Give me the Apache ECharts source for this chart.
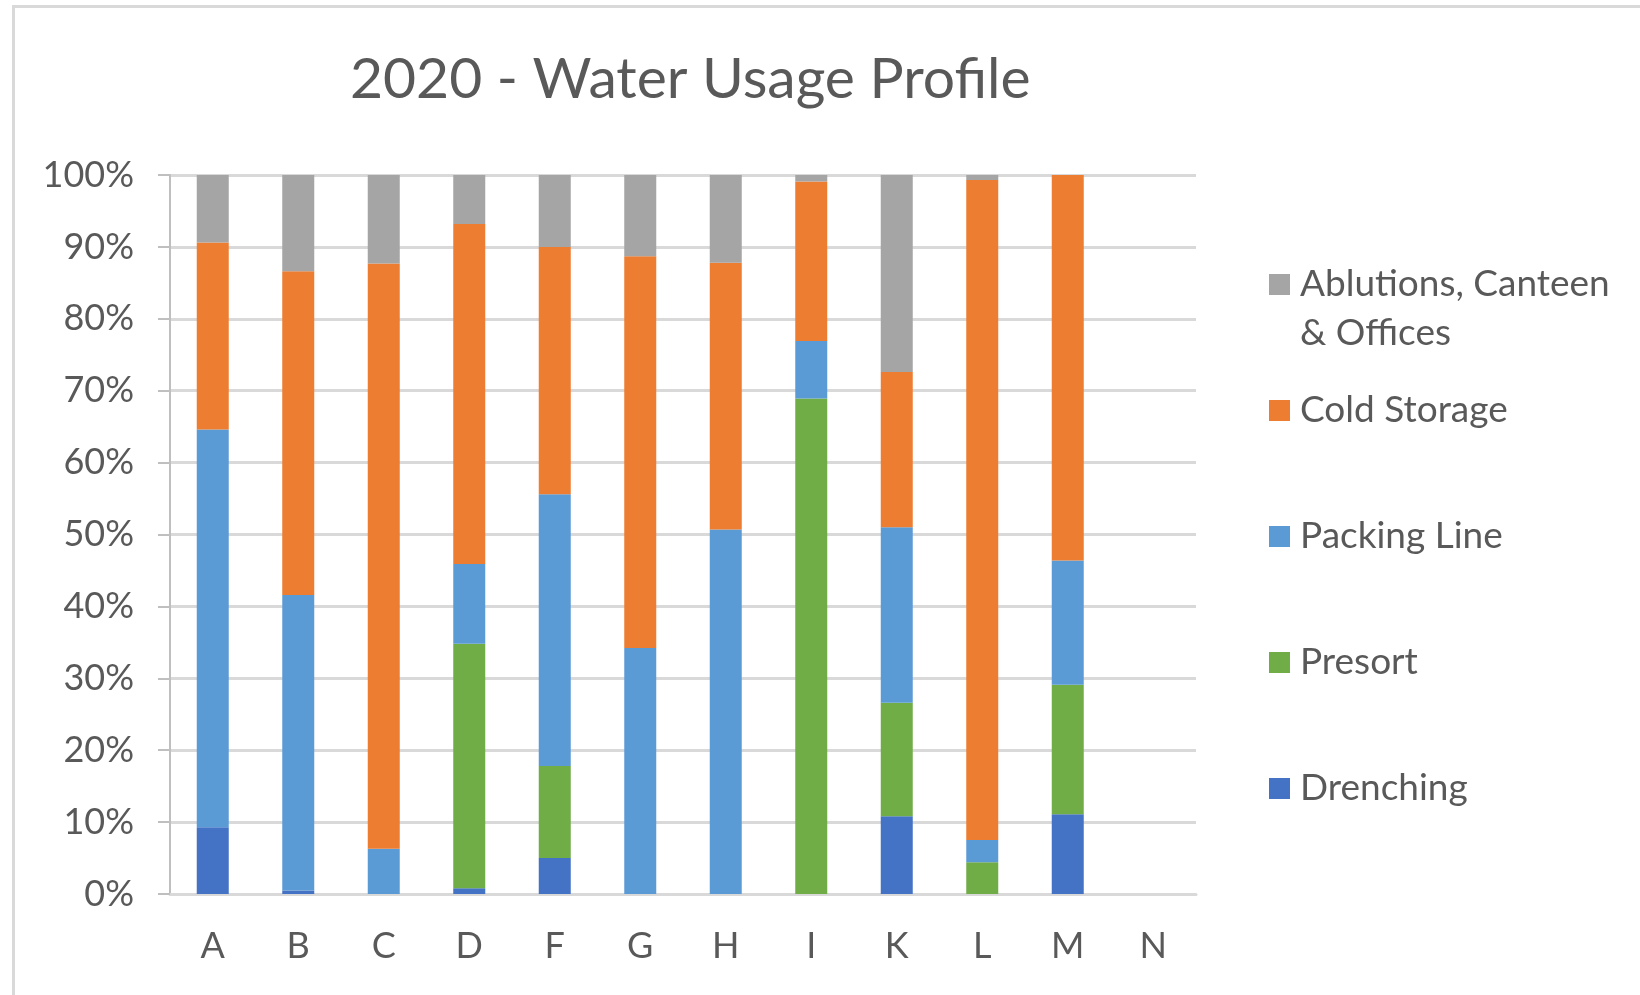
<!DOCTYPE html>
<html>
<head>
<meta charset="utf-8">
<title>2020 - Water Usage Profile</title>
<script src="https://cdn.jsdelivr.net/npm/echarts@6/dist/echarts.min.js"></script>
<style>
  html, body { margin: 0; padding: 0; background: #fff; }
  #chart { width: 1640px; height: 995px; }
</style>
</head>
<body>
<div id="chart"></div>
<script>
const categories = ['A', 'B', 'C', 'D', 'F', 'G', 'H', 'I', 'K', 'L', 'M', 'N'];

// share of water use per site, in percent (N has no data)
const drenching = [9.3, 0.5, 0, 0.8, 5.0, 0, 0, 0, 10.8, 0, 11.1, null];
const presort = [0, 0, 0, 34.0, 12.8, 0, 0, 68.9, 15.8, 4.4, 18.0, null];
const packingLine = [55.3, 41.1, 6.3, 11.1, 37.8, 34.2, 50.7, 8.0, 24.4, 3.1, 17.3, null];
const coldStorage = [26.0, 45.0, 81.4, 47.3, 34.4, 54.5, 37.1, 22.2, 21.6, 91.8, 53.6, null];
const ablutions = [9.4, 13.4, 12.3, 6.8, 10.0, 11.3, 12.2, 0.9, 27.4, 0.7, 0, null];

const ABL = 'Ablutions, Canteen & Offices';
const font = 'Lato';
const textColor = '#595959';

const chart = echarts.init(document.getElementById('chart'));

const bar = (name, data, color) => ({
  name,
  type: 'bar',
  stack: 'total',
  barWidth: 32,
  data,
  itemStyle: { color },
  emphasis: { disabled: true },
});

const singleItem = name => ({
  name,
  textStyle: { lineHeight: 147, padding: [0, 0, 0, 5] },
});

chart.setOption({
  animation: false,
  textStyle: { fontFamily: font },
  title: {
    text: '2020 - Water Usage Profile',
    left: 350,
    top: 51,
    padding: 0,
    textStyle: {
      fontFamily: font,
      fontSize: 57,
      fontWeight: 'normal',
      color: textColor,
    },
  },
  graphic: [
    {
      type: 'rect',
      left: 11,
      top: 4,
      shape: { width: 1700, height: 1100 },
      style: { fill: 'none', stroke: '#d9d9d9', lineWidth: 3 },
      silent: true,
    },
  ],
  legend: {
    orient: 'vertical',
    left: 1269,
    top: 211,
    padding: 0,
    itemGap: -21,
    itemWidth: 21,
    itemHeight: 21,
    icon: 'rect',
    selectedMode: false,
    // leading blank line keeps the marker level with the first text line
    formatter: name => (name === ABL ? '\nAblutions, Canteen\n& Offices' : name),
    textStyle: {
      fontFamily: font,
      fontSize: 37,
      color: textColor,
    },
    data: [
      { name: ABL, textStyle: { lineHeight: 49, padding: [0, 0, 0, 5] } },
      singleItem('Cold Storage'),
      singleItem('Packing Line'),
      singleItem('Presort'),
      singleItem('Drenching'),
    ],
  },
  grid: {
    left: 170,
    right: 444,
    top: 175,
    bottom: 101,
  },
  xAxis: {
    type: 'category',
    data: categories,
    axisLine: { lineStyle: { color: '#d9d9d9', width: 3 } },
    axisTick: { show: false },
    axisLabel: {
      margin: 34,
      fontFamily: font,
      fontSize: 36,
      color: textColor,
    },
  },
  yAxis: {
    type: 'value',
    min: 0,
    max: 100,
    interval: 10,
    axisLine: { show: true, lineStyle: { color: '#bfbfbf', width: 2 } },
    axisTick: { show: true, inside: false, length: 12, lineStyle: { color: '#bfbfbf', width: 2 } },
    splitLine: { lineStyle: { color: '#d9d9d9', width: 3 } },
    axisLabel: {
      margin: 36,
      formatter: '{value}%',
      fontFamily: font,
      fontSize: 36,
      color: textColor,
    },
  },
  series: [
    bar('Drenching', drenching, '#4472c4'),
    bar('Presort', presort, '#70ad47'),
    bar('Packing Line', packingLine, '#5b9bd5'),
    bar('Cold Storage', coldStorage, '#ed7d31'),
    bar(ABL, ablutions, '#a5a5a5'),
  ],
});
</script>
</body>
</html>
